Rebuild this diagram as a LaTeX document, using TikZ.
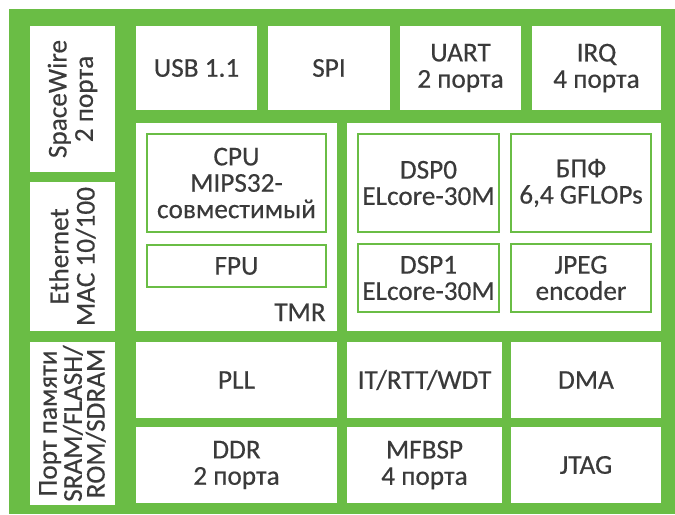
\documentclass[tikz,border=0pt]{standalone}
\usepackage{fontspec}
\setmainfont{Carlito}[FakeBold=0.4]
\usepackage{tikz}
\usetikzlibrary{positioning,fit}
\definecolor{chipgreen}{RGB}{106,189,69}
\definecolor{chiptext}{RGB}{58,58,58}
\tikzstyle{blk} = [fill=white, inner sep=0pt]
\tikzstyle{core} = [blk, draw=chipgreen, line width=1.1pt]
\tikzstyle{lbl} = [inner sep=0pt, align=center, text=chiptext, font=\fontsize{15.5}{15}\selectfont]
\tikzstyle{vlbl} = [lbl, rotate=90]

\begin{document}
\begin{tikzpicture}[x=0.02cm, y=-0.02cm]
\useasboundingbox (0,0) rectangle (675,514);
\fill[chipgreen] (9,9) rectangle (675,514);

% left column
\node[blk, fit={(30,26) (115,172)}] (spw) {};
\node[vlbl] at (spw) {SpaceWire\\2 порта};
\node[blk, fit={(30,182) (115,331)}] (eth) {};
\node[vlbl] at (eth) {Ethernet\\MAC 10/100};
\node[blk, fit={(30,342) (115,505)}] (mem) {};
\node[vlbl, font=\fontsize{15.5}{13}\selectfont] at (mem) {Порт памяти\\SRAM/FLASH/\\ROM/SDRAM};

% top row
\node[blk, fit={(136,26) (257,110)}] (usb) {};
\node[lbl] at (usb) {USB 1.1};
\node[blk, fit={(268,26) (390,110)}] (spi) {};
\node[lbl] at (spi) {SPI};
\node[blk, fit={(400,26) (521,110)}] (uart) {};
\node[lbl] at (uart) {UART\\2 порта};
\node[blk, fit={(532,26) (661,110)}] (irq) {};
\node[lbl] at (irq) {IRQ\\4 порта};

% cores
\node[blk, fit={(136,123) (337,331)}] (cpublk) {};
\node[core, fit={(147,134) (326,232)}] (cpu) {};
\node[lbl] at (cpu) {CPU\\MIPS32-\\совместимый};
\node[core, fit={(147,245) (326,287)}] (fpu) {};
\node[lbl] at (fpu) {FPU};
\node[lbl, anchor=base east] (tmr) at (326,321) {TMR};

\node[blk, fit={(347,123) (661,331)}] (dspblk) {};
\node[core, fit={(358,134) (499,232)}] (dsp0) {};
\node[lbl] at (dsp0) {DSP0\\ELcore-30M};
\node[core, fit={(511,134) (651,232)}] (fft) {};
\node[lbl] at (fft) {БПФ\\6,4 GFLOPs};
\node[core, fit={(358,244) (499,312)}] (dsp1) {};
\node[lbl] at (dsp1) {DSP1\\ELcore-30M};
\node[core, fit={(511,244) (651,312)}] (jpeg) {};
\node[lbl] at (jpeg) {JPEG\\encoder};

% bottom rows
\node[blk, fit={(136,342) (337,418)}] (pll) {};
\node[lbl] at (pll) {PLL};
\node[blk, fit={(347,342) (502,418)}] (timers) {};
\node[lbl] at (timers) {IT/RTT/WDT};
\node[blk, fit={(511,342) (661,418)}] (dma) {};
\node[lbl] at (dma) {DMA};
\node[blk, fit={(136,427) (337,503)}] (ddr) {};
\node[lbl] at (ddr) {DDR\\2 порта};
\node[blk, fit={(347,427) (502,503)}] (mfbsp) {};
\node[lbl] at (mfbsp) {MFBSP\\4 порта};
\node[blk, fit={(511,427) (661,503)}] (jtag) {};
\node[lbl] at (jtag) {JTAG};
\end{tikzpicture}
\end{document}
